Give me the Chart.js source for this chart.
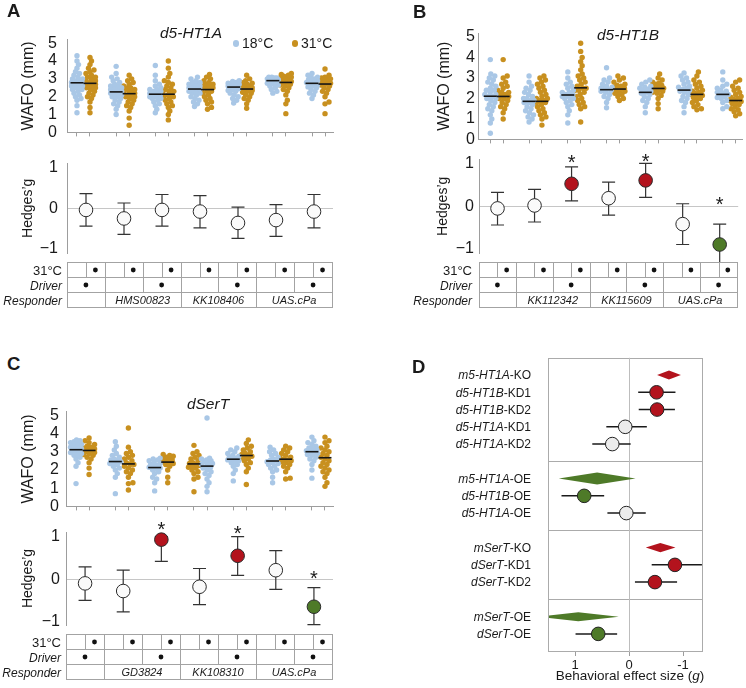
<!DOCTYPE html>
<html><head><meta charset="utf-8">
<script src="https://cdn.jsdelivr.net/npm/chart.js@4.4.1/dist/chart.umd.min.js"></script>
<style>
html,body{margin:0;padding:0;background:#fff}
body{width:746px;height:688px;position:relative;overflow:hidden;font-family:'Liberation Sans',Arial,Helvetica,sans-serif;color:#1a1a1a}
canvas{position:absolute}
.t{position:absolute;white-space:nowrap;line-height:1}
.dot{position:absolute;border-radius:50%}
</style></head><body>
<script>
// ================= DATA =================
const groups = [0,1,2,3,4,5,6];
const wafoTicks = [0,1,2,3,4,5];
const hedgesTicks = [-1,0,1];
const legendLabels = ['18°C','31°C'];
const rowLabels = ['31°C','Driver','Responder'];
const driverOn = [1,0,1,0,1,0,1];

// Panel A : d5-HT1A
const aTitle = 'd5-HT1A';
const aResponders = ['', 'HMS00823', 'KK108406', 'UAS.cPa'];
const a18 = [
 [1.1,1.5,1.8,1.9,2.0,2.1,2.2,2.3,2.4,2.4,2.5,2.5,2.6,2.6,2.7,2.7,2.8,2.8,2.9,2.9,3.0,3.0,3.1,3.2,3.3,3.4,3.6,3.8,4.0,4.3],
 [1.0,1.3,1.5,1.6,1.7,1.8,1.9,2.0,2.0,2.1,2.1,2.2,2.2,2.3,2.3,2.4,2.4,2.5,2.5,2.6,2.6,2.7,2.8,2.9,3.0,3.1,3.3,3.7],
 [1.1,1.3,1.5,1.6,1.7,1.8,1.9,1.9,2.0,2.0,2.1,2.1,2.2,2.2,2.3,2.3,2.4,2.4,2.5,2.6,2.7,2.9,3.2,3.75],
 [1.45,1.6,1.7,1.8,1.9,2.0,2.1,2.2,2.2,2.3,2.3,2.4,2.4,2.5,2.5,2.6,2.6,2.7,2.7,2.8,2.8,2.9,3.0,3.1],
 [1.65,1.8,1.9,2.0,2.1,2.2,2.3,2.35,2.4,2.45,2.5,2.5,2.55,2.6,2.6,2.65,2.7,2.7,2.75,2.8,2.85,2.9],
 [2.2,2.3,2.4,2.5,2.6,2.65,2.7,2.75,2.8,2.85,2.85,2.9,2.9,2.95,2.95,3.0,3.0,3.0,3.05,3.05,3.1,3.1],
 [1.9,2.1,2.2,2.3,2.4,2.5,2.55,2.6,2.65,2.7,2.75,2.8,2.85,2.9,2.95,3.0,3.05,3.1,3.2,3.3]
];
const a31 = [
 [1.1,1.4,1.7,1.9,2.0,2.1,2.2,2.3,2.4,2.5,2.5,2.6,2.6,2.7,2.7,2.8,2.8,2.9,2.9,3.0,3.1,3.1,3.2,3.3,3.4,3.5,3.6,3.8,4.0,4.2],
 [0.4,0.8,1.2,1.4,1.5,1.6,1.7,1.8,1.9,2.0,2.0,2.1,2.1,2.2,2.2,2.3,2.3,2.4,2.4,2.5,2.5,2.6,2.7,2.8,2.9,3.0,3.2],
 [0.7,1.0,1.2,1.4,1.5,1.6,1.7,1.8,1.9,2.0,2.0,2.1,2.1,2.2,2.3,2.3,2.4,2.5,2.6,2.7,2.8,2.9,3.1,3.3,3.6,4.0],
 [1.3,1.4,1.6,1.7,1.8,1.9,2.0,2.1,2.2,2.3,2.3,2.4,2.4,2.5,2.5,2.6,2.6,2.7,2.7,2.8,2.9,3.0,3.1,3.25],
 [1.35,1.6,1.8,1.9,2.0,2.1,2.2,2.25,2.3,2.35,2.4,2.45,2.5,2.5,2.55,2.6,2.65,2.7,2.75,2.8,2.9,3.0,3.2],
 [1.05,1.6,1.8,2.1,2.3,2.4,2.5,2.6,2.65,2.7,2.75,2.8,2.85,2.9,2.95,3.0,3.0,3.05,3.1,3.1,3.15,3.2,3.25,3.3],
 [1.05,1.6,1.7,2.0,2.2,2.3,2.4,2.5,2.6,2.65,2.7,2.75,2.8,2.85,2.9,2.95,3.0,3.0,3.05,3.1,3.2,3.55]
];
const aMean18 = [2.78,2.27,2.14,2.43,2.54,2.90,2.75];
const aMean31 = [2.75,2.17,2.14,2.40,2.43,2.80,2.71];
const aG  = [-0.04,-0.25,-0.04,-0.08,-0.36,-0.29,-0.08];
const aLo = [-0.44,-0.64,-0.44,-0.48,-0.74,-0.69,-0.48];
const aHi = [0.36,0.13,0.34,0.31,0.03,0.09,0.34];
const aSig = ['n','n','n','n','n','n','n'];
const aStar = [null,null,null,null,null,null,null];

// Panel B : d5-HT1B
const bTitle = 'd5-HT1B';
const bResponders = ['', 'KK112342', 'KK115609', 'UAS.cPa'];
const b18 = [
 [0.3,0.8,1.0,1.2,1.4,1.5,1.6,1.7,1.8,1.9,2.0,2.0,2.1,2.1,2.2,2.2,2.3,2.4,2.4,2.5,2.6,2.7,2.8,2.9,3.0,3.1,3.2,3.9],
 [0.85,1.0,1.1,1.2,1.3,1.4,1.5,1.6,1.7,1.8,1.8,1.9,1.9,2.0,2.0,2.1,2.2,2.3,2.4,2.5,2.6,2.8,3.1],
 [0.8,1.2,1.4,1.6,1.7,1.8,1.9,2.0,2.0,2.1,2.1,2.2,2.2,2.3,2.3,2.4,2.5,2.6,2.7,2.8,3.0,3.3],
 [1.55,1.8,2.0,2.1,2.2,2.3,2.35,2.4,2.45,2.5,2.5,2.55,2.6,2.7,2.8,2.9,3.0,3.5],
 [1.3,1.6,1.8,1.9,2.0,2.1,2.2,2.25,2.3,2.35,2.4,2.45,2.5,2.55,2.6,2.7,2.8,2.9],
 [1.3,1.6,1.8,1.9,2.0,2.1,2.2,2.3,2.35,2.4,2.45,2.5,2.55,2.6,2.7,2.8,2.9,3.0,3.1,3.25],
 [1.5,1.6,1.8,1.9,2.0,2.05,2.1,2.15,2.2,2.25,2.3,2.35,2.4,2.5,2.6,2.7,2.9,3.3]
];
const b31 = [
 [1.0,1.3,1.5,1.6,1.7,1.8,1.9,2.0,2.0,2.1,2.1,2.2,2.2,2.3,2.3,2.4,2.5,2.6,2.7,2.8,3.0,3.1,3.9],
 [0.7,1.0,1.1,1.2,1.3,1.4,1.5,1.6,1.7,1.8,1.8,1.9,1.9,2.0,2.0,2.1,2.2,2.3,2.4,2.5,2.6,2.7,2.8,2.9,3.0,3.1],
 [0.85,1.5,1.6,1.7,1.8,1.9,2.0,2.1,2.2,2.3,2.4,2.4,2.5,2.5,2.6,2.7,2.8,2.9,3.0,3.1,3.2,3.4,3.6,3.8,4.0,4.3,4.7],
 [1.9,2.0,2.1,2.2,2.25,2.3,2.35,2.4,2.45,2.5,2.5,2.55,2.6,2.65,2.7,2.8,2.9,3.0,3.1],
 [1.5,1.75,2.0,2.15,2.25,2.3,2.35,2.4,2.45,2.5,2.55,2.6,2.65,2.7,2.75,2.8,2.9,3.0,3.2],
 [1.45,1.5,1.6,1.7,1.8,1.9,2.0,2.05,2.1,2.15,2.2,2.25,2.3,2.35,2.4,2.5,2.6,2.7,2.8,2.9,3.1,3.3],
 [1.15,1.25,1.35,1.45,1.5,1.6,1.7,1.75,1.8,1.85,1.9,1.95,2.0,2.05,2.1,2.2,2.3,2.4,2.5,2.6,2.8,2.9]
];
const bMean18 = [2.11,1.86,2.17,2.43,2.30,2.41,2.20];
const bMean31 = [2.10,1.86,2.52,2.46,2.49,2.20,1.90];
const bG  = [-0.05,0.02,0.53,0.19,0.61,-0.42,-0.90];
const bLo = [-0.44,-0.37,0.13,-0.21,0.21,-0.90,-1.33];
const bHi = [0.33,0.40,0.93,0.57,1.01,0.06,-0.42];
const bSig = ['n','n','up','n','up','n','down'];
const bStar = [null,null,1.15,null,1.17,null,0.16];

// Panel C : dSerT  (group 4 plotted with the 31°C cloud on the left)
const cTitle = 'dSerT';
const cResponders = ['', 'GD3824', 'KK108310', 'UAS.cPa'];
const cSwapped = [3];
const c18 = [
 [1.25,2.2,2.4,2.6,2.7,2.8,2.85,2.9,2.95,3.0,3.05,3.1,3.15,3.2,3.25,3.3,3.35,3.4,3.45,3.5,3.55,3.6,3.65],
 [0.7,1.6,1.8,2.0,2.1,2.2,2.3,2.35,2.4,2.45,2.5,2.55,2.6,2.7,2.8,2.9,3.1,3.3,3.55],
 [0.85,1.3,1.5,1.6,1.8,1.9,2.0,2.05,2.1,2.15,2.2,2.25,2.3,2.35,2.4,2.5,2.55,2.6,2.65],
 [0.8,1.1,1.3,1.5,1.7,1.8,1.9,2.0,2.1,2.15,2.2,2.3,2.35,2.4,2.45,2.5,2.55,2.6,2.65,4.85],
 [1.4,1.8,2.0,2.2,2.3,2.4,2.45,2.5,2.55,2.6,2.65,2.7,2.75,2.8,2.9,3.0,3.1,3.2],
 [1.3,1.6,1.9,2.0,2.1,2.2,2.3,2.35,2.4,2.45,2.5,2.55,2.6,2.7,2.8,2.9,3.0,3.1,3.25],
 [1.55,2.0,2.3,2.5,2.6,2.7,2.8,2.85,2.9,2.95,3.0,3.05,3.1,3.15,3.2,3.3,3.4,3.5,3.6,3.8]
];
const c31 = [
 [1.75,2.1,2.4,2.6,2.7,2.8,2.85,2.9,2.95,3.0,3.05,3.1,3.15,3.2,3.25,3.3,3.4,3.5,3.6,3.75],
 [0.9,1.25,1.3,1.6,1.8,1.9,2.0,2.1,2.2,2.3,2.3,2.4,2.5,2.6,2.7,2.8,2.9,3.0,3.25,4.3],
 [1.3,1.6,2.0,2.2,2.3,2.35,2.4,2.45,2.5,2.55,2.6,2.65,2.7,2.75,2.8,2.85],
 [0.8,1.5,1.6,1.8,1.9,2.0,2.1,2.15,2.2,2.25,2.3,2.35,2.4,2.5,2.6,2.7,2.8,2.9,3.0,3.35],
 [1.2,1.9,2.1,2.3,2.4,2.5,2.6,2.65,2.7,2.75,2.8,2.85,2.9,3.0,3.1,3.2,3.3,3.45,3.65],
 [1.5,1.55,1.9,2.1,2.2,2.3,2.4,2.45,2.5,2.55,2.6,2.65,2.7,2.8,2.9,3.0,3.1,3.2,3.3],
 [1.1,1.3,1.6,1.8,1.9,2.0,2.1,2.2,2.3,2.4,2.5,2.6,2.7,2.8,2.9,3.0,3.1,3.2,3.3,3.5,3.6,3.8]
];
const cMean18 = [3.11,2.46,2.13,2.21,2.59,2.49,3.00];
const cMean31 = [3.07,2.33,2.43,2.33,2.79,2.59,2.67];
const cG  = [-0.10,-0.28,0.93,-0.18,0.55,0.21,-0.65];
const cLo = [-0.50,-0.77,0.42,-0.60,0.09,-0.24,-1.07];
const cHi = [0.29,0.21,1.00,0.25,1.00,0.67,-0.20];
const cSig = ['n','n','up','n','up','n','down'];
const cStar = [null,null,1.29,null,1.18,null,0.14];

// Panel D : forest plot
const dGroupSizes = [5,3,3,2];
const dNames = [['m5-HT1A','-KO'],['d5-HT1B','-KD1'],['d5-HT1B','-KD2'],['d5-HT1A','-KD1'],['d5-HT1A','-KD2'],
                ['m5-HT1A','-OE'],['d5-HT1B','-OE'],['d5-HT1A','-OE'],
                ['mSerT','-KO'],['dSerT','-KD1'],['dSerT','-KD2'],
                ['mSerT','-OE'],['dSerT','-OE']];
const dKind = ['meta','fly','fly','fly','fly','meta','fly','fly','meta','fly','fly','meta','fly'];
const dEst  = [-0.74,-0.51,-0.52,0.07,0.31, 0.59,0.83,0.05, -0.58,-0.85,-0.48, 0.94,0.57];
const dLow  = [-0.96,-0.86,-0.85,-0.33,-0.03, -0.12,0.46,-0.31, -0.86,-1.35,-0.89, 0.19,0.22];
const dHigh = [-0.52,-0.17,-0.18,0.42,0.68, 1.30,1.25,0.40, -0.31,-0.42,-0.11, 1.69,0.99];
const dSig  = ['up','up','up','n','n','down','down','n','up','up','up','down','down'];
const dTicks = [1,0,-1];
const dAxisTitle = 'Behavioral effect size (<i>g</i>)';

// ================= STYLE / HELPERS =================
const FONT = "'Liberation Sans', Arial, Helvetica, sans-serif";
Chart.defaults.font.family = FONT;
Chart.defaults.color = '#1a1a1a';
const BLUE='#a9c7e6', GOLD='#c8901f', RED='#b3131d', GREEN='#4e7a28', WHITE='#fafafa', GREY='#9d9d9d', TXT='#1a1a1a';
const sigColor = s => s==='up'?RED : s==='down'?GREEN : WHITE;

function mkCanvas(l,t,w,h){
  const c=document.createElement('canvas');
  c.width=w; c.height=h;
  c.style.left=l+'px'; c.style.top=t+'px'; c.style.width=w+'px'; c.style.height=h+'px';
  document.body.appendChild(c); return c;
}
function txt(html,x,base,fs,opt){
  opt=opt||{};
  const d=document.createElement('div'); d.className='t'; d.innerHTML=html;
  d.style.fontSize=fs+'px'; d.style.top=(base-0.8465*fs)+'px';
  if(opt.italic) d.style.fontStyle='italic';
  if(opt.bold) d.style.fontWeight='bold';
  if(opt.align==='center'){d.style.left=x+'px'; d.style.transform='translateX(-50%)';}
  else d.style.left=x+'px';
  document.body.appendChild(d);
}
function dot(x,y,r,col){
  const d=document.createElement('div'); d.className='dot';
  d.style.left=(x-r)+'px'; d.style.top=(y-r)+'px'; d.style.width=2*r+'px'; d.style.height=2*r+'px'; d.style.background=col;
  document.body.appendChild(d);
}
// deterministic beeswarm layout (pixel space) -> x offsets in data units
function swarm(vals,cx,pxX,pxY){
  const r=2.7, minD=2*r*0.8, out=[], placed=[];
  const sorted=[...vals].sort((a,b)=>a-b);
  for(const v of sorted){
    const py=v*pxY; let best=0, bestScore=-1;
    for(let k=0;k<=22;k++){
      const off=(k%2?1:-1)*Math.ceil(k/2)*0.5;
      let md=Infinity; for(const p of placed){const d=Math.hypot(p.x-off,p.y-py); if(d<md) md=d;}
      if(md>=minD){best=off;break;}
      if(md>bestScore){bestScore=md;best=off;}
    }
    placed.push({x:best,y:py}); out.push({x:cx+best/pxX,y:v});
  }
  return out;
}
const noInteract = {responsive:false, animation:false, events:[]};

function wafoChart(o){
  const c=mkCanvas(o.l,o.t,o.w,o.h);
  const pxX=(o.areaR-o.areaL)/(o.xmax-o.xmin), pxY=(o.areaB-o.areaT)/5.2, OFF=0.166;
  const side=(i,s)=>(o.swap&&o.swap.includes(i))?-s:s;
  const d18=[],d31=[],tickVals=[];
  groups.forEach(i=>{
    d18.push(...swarm(o.v18[i], i+side(i,-1)*OFF, pxX, pxY));
    d31.push(...swarm(o.v31[i], i+side(i,1)*OFF, pxX, pxY));
    tickVals.push(i-OFF,i+OFF);
  });
  const meanPlugin={id:'means',afterDatasetsDraw(ch){
    const ctx=ch.ctx,xs=ch.scales.x,ys=ch.scales.y; ctx.save(); ctx.strokeStyle='#151515'; ctx.lineWidth=1.6;
    groups.forEach(i=>{[[o.m18[i],side(i,-1)],[o.m31[i],side(i,1)]].forEach(([m,s])=>{
      const x=xs.getPixelForValue(i+s*OFF), y=ys.getPixelForValue(m);
      ctx.beginPath(); ctx.moveTo(x-6.5,y); ctx.lineTo(x+6.5,y); ctx.stroke();});});
    ctx.restore();}};
  const pt = col => ({pointRadius:2.7, pointBackgroundColor:col, backgroundColor:col, pointBorderWidth:0, borderWidth:0, showLine:false, clip:false});
  new Chart(c,{type:'scatter',
    data:{datasets:[Object.assign({label:legendLabels[0],data:d18},pt(BLUE)),Object.assign({label:legendLabels[1],data:d31},pt(GOLD))]},
    options:Object.assign({},noInteract,{
      layout:{padding:{left:0,top:o.areaT-o.t,right:o.l+o.w-o.areaR,bottom:0}},
      plugins:{legend:{display:false},tooltip:{enabled:false}},
      scales:{
        x:{type:'linear',min:o.xmin,max:o.xmax,
           afterFit:s=>{s.height=o.t+o.h-o.areaB;},
           afterBuildTicks:s=>{s.ticks=tickVals.map(v=>({value:v}));},
           ticks:{display:false,autoSkip:false},
           grid:{display:true,drawOnChartArea:false,drawTicks:true,tickLength:4,color:GREY,tickColor:GREY},
           border:{display:true,color:GREY}},
        y:{type:'linear',min:0,max:5.2,
           afterFit:s=>{s.width=o.areaL-o.l;},
           afterBuildTicks:s=>{s.ticks=wafoTicks.map(v=>({value:v}));},
           ticks:{font:{size:16},padding:o.tickPad,color:TXT,autoSkip:false},
           grid:{display:false,drawTicks:false},
           border:{display:true,color:GREY},
           title:{display:true,text:'WAFO (mm)',font:{size:16},color:TXT,padding:{top:o.titlePad,bottom:0}}}
      }}),
    plugins:[meanPlugin]});
}

function hedgesChart(o){
  const c=mkCanvas(o.l,o.t,o.w,o.h);
  const pts=groups.map(i=>({x:i,y:o.g[i]}));
  const errPlugin={id:'err',beforeDatasetsDraw(ch){
    const ctx=ch.ctx,xs=ch.scales.x,ys=ch.scales.y; ctx.save(); ctx.strokeStyle='#333'; ctx.lineWidth=1.2;
    groups.forEach(i=>{const x=xs.getPixelForValue(i), y0=ys.getPixelForValue(o.lo[i]), y1=ys.getPixelForValue(o.hi[i]);
      ctx.beginPath(); ctx.moveTo(x,y0); ctx.lineTo(x,y1);
      ctx.moveTo(x-6.5,y0); ctx.lineTo(x+6.5,y0); ctx.moveTo(x-6.5,y1); ctx.lineTo(x+6.5,y1); ctx.stroke();});
    ctx.restore();}};
  const starPlugin={id:'star',afterDatasetsDraw(ch){
    const ctx=ch.ctx,xs=ch.scales.x,ys=ch.scales.y; ctx.save(); ctx.fillStyle=TXT; ctx.font='20px '+FONT; ctx.textAlign='center'; ctx.textBaseline='alphabetic';
    groups.forEach(i=>{ if(o.star[i]!==null) ctx.fillText('*', xs.getPixelForValue(i), ys.getPixelForValue(o.star[i])+11.4);});
    ctx.restore();}};
  const tablePlugin={id:'tbl',afterDraw(ch){
    const ctx=ch.ctx,xs=ch.scales.x,a=ch.chartArea;
    const L=Math.round(xs.getPixelForValue(-0.5)), R=Math.round(xs.getPixelForValue(6.5))-1, w=(R-L)/7;
    const T=Math.round(a.bottom+9), rh=15;
    ctx.save();
    ctx.fillStyle='#fff'; ctx.fillRect(L,T,R-L,3*rh);
    ctx.strokeStyle='#a3a3a3'; ctx.lineWidth=1;
    const hl=y=>{ctx.beginPath();ctx.moveTo(L,y+0.5);ctx.lineTo(R+1,y+0.5);ctx.stroke();};
    const vl=(x,y0,y1)=>{x=Math.round(x)+0.5;ctx.beginPath();ctx.moveTo(x,y0);ctx.lineTo(x,y1);ctx.stroke();};
    for(let k=0;k<4;k++) hl(T+k*rh);
    vl(L,T,T+3*rh+1); vl(R,T,T+3*rh+1);
    for(let k=1;k<14;k++) vl(L+k*w/2,T,T+rh);
    for(let k=1;k<7;k++) vl(L+k*w,T+rh,T+2*rh);
    [1,3,5].forEach(k=>vl(L+k*w,T+2*rh,T+3*rh));
    ctx.fillStyle='#111';
    const dt=(x,y)=>{ctx.beginPath();ctx.arc(x,y,2.4,0,Math.PI*2);ctx.fill();};
    groups.forEach(i=>{dt(L+(i+0.75)*w,T+rh/2+0.5); if(driverOn[i]) dt(L+(i+0.5)*w,T+1.5*rh+0.5);});
    ctx.fillStyle=TXT; ctx.textBaseline='alphabetic';
    ctx.textAlign='center'; ctx.font='italic 11px '+FONT;
    [1,2,3].forEach(k=>ctx.fillText(o.resp[k], L+2*k*w, T+2.5*rh+4.5));
    ctx.textAlign='right';
    ctx.font='13px '+FONT; ctx.fillText(rowLabels[0], o.labelR-o.l, T+0.5*rh+5);
    ctx.font='italic 12px '+FONT; ctx.fillText(rowLabels[1], o.labelR-o.l, T+1.5*rh+5); ctx.fillText(rowLabels[2], o.labelR-o.l, T+2.5*rh+5);
    ctx.restore();}};
  new Chart(c,{type:'scatter',
    data:{datasets:[{label:'Hedges g',data:pts,pointRadius:6.8,pointBackgroundColor:groups.map(i=>sigColor(o.sig[i])),pointBorderColor:'#2a2a2a',pointBorderWidth:1,showLine:false,clip:false}]},
    options:Object.assign({},noInteract,{
      layout:{padding:{left:0,top:o.areaT-o.t,right:o.l+o.w-o.areaR,bottom:o.t+o.h-o.areaB}},
      plugins:{legend:{display:false},tooltip:{enabled:false}},
      scales:{
        x:{type:'linear',display:false,min:-0.5,max:6.5},
        y:{type:'linear',min:o.ymin,max:o.ymax,
           afterFit:s=>{s.width=o.areaL-o.l;},
           afterBuildTicks:s=>{s.ticks=hedgesTicks.map(v=>({value:v}));},
           ticks:{font:{size:16},padding:o.tickPad,color:TXT,autoSkip:false,callback:v=>v<0?'\u2212'+Math.abs(v):String(v)},
           grid:{display:true,drawTicks:false,color:ctx=>(ctx.tick&&ctx.tick.value===0)?'#c6c6c6':'rgba(0,0,0,0)'},
           border:{display:true,color:GREY},
           title:{display:true,text:'Hedges\u2019g',font:{size:14},color:TXT,padding:{top:o.titlePad,bottom:0}}}
      }}),
    plugins:[errPlugin,starPlugin,tablePlugin]});
}

function forestChart(){
  const l=373,t=350,w=373,h=332, L=548,R=703,T=357,B=652;
  const c=mkCanvas(l,t,w,h);
  const rows=[], seps=[]; let r=0;
  dGroupSizes.forEach((n,gi)=>{for(let k=0;k<n;k++) rows.push(r++); if(gi<dGroupSizes.length-1) seps.push(r); r++;});
  const flyIdx=rows.map((_,i)=>i).filter(i=>dKind[i]==='fly');
  const metaIdx=rows.map((_,i)=>i).filter(i=>dKind[i]==='meta');
  const metaHalf=[4.5,6,4.7,4.5];
  const boxPlugin={id:'box',beforeDatasetsDraw(ch){
    const ctx=ch.ctx,xs=ch.scales.x,ys=ch.scales.y,a=ch.chartArea; ctx.save();
    ctx.strokeStyle='#ababab'; ctx.lineWidth=1;
    ctx.strokeRect(Math.round(a.left)+0.5,Math.round(a.top)+0.5,Math.round(a.right-a.left)-1,Math.round(a.bottom-a.top)-1);
    seps.forEach(s=>{const y=Math.round(ys.getPixelForValue(s))+0.5; ctx.beginPath(); ctx.moveTo(a.left,y); ctx.lineTo(a.right,y); ctx.stroke();});
    const x0=Math.round(xs.getPixelForValue(0))+0.5; ctx.strokeStyle='#bdbdbd'; ctx.beginPath(); ctx.moveTo(x0,a.top); ctx.lineTo(x0,a.bottom); ctx.stroke();
    ctx.strokeStyle='#1a1a1a'; ctx.lineWidth=1.5;
    flyIdx.forEach(i=>{const y=ys.getPixelForValue(rows[i]); ctx.beginPath(); ctx.moveTo(xs.getPixelForValue(dLow[i]),y); ctx.lineTo(xs.getPixelForValue(dHigh[i]),y); ctx.stroke();});
    ctx.beginPath(); ctx.rect(a.left+1,a.top,a.right-a.left-2,a.bottom-a.top); ctx.clip();
    metaIdx.forEach((i,k)=>{const y=ys.getPixelForValue(rows[i]), hh=metaHalf[k];
      ctx.fillStyle=sigColor(dSig[i]); ctx.beginPath();
      ctx.moveTo(xs.getPixelForValue(dLow[i]),y); ctx.lineTo(xs.getPixelForValue(dEst[i]),y-hh);
      ctx.lineTo(xs.getPixelForValue(dHigh[i]),y); ctx.lineTo(xs.getPixelForValue(dEst[i]),y+hh); ctx.closePath(); ctx.fill();});
    ctx.restore();}};
  const labelPlugin={id:'lab',afterDraw(ch){
    const ctx=ch.ctx,ys=ch.scales.y; ctx.save(); ctx.fillStyle=TXT; ctx.textAlign='right'; ctx.textBaseline='alphabetic';
    const xr=531-l;
    rows.forEach((rr,i)=>{const y=ys.getPixelForValue(rr)+4.3;
      ctx.font='12px '+FONT; ctx.fillText(dNames[i][1],xr,y); const wS=ctx.measureText(dNames[i][1]).width;
      ctx.font='italic 12px '+FONT; ctx.fillText(dNames[i][0],xr-wS,y);});
    ctx.restore();}};
  new Chart(c,{type:'scatter',
    data:{datasets:[{label:'fly',data:flyIdx.map(i=>({x:dEst[i],y:rows[i]})),pointRadius:6.8,
      pointBackgroundColor:flyIdx.map(i=>dSig[i]==='n'?'#ececec':sigColor(dSig[i])),pointBorderColor:'#222',pointBorderWidth:1,showLine:false,clip:false}]},
    options:Object.assign({},noInteract,{
      layout:{padding:{left:0,top:T-t,right:l+w-R,bottom:0}},
      plugins:{legend:{display:false},tooltip:{enabled:false}},
      scales:{
        x:{type:'linear',reverse:true,min:-1.37,max:1.5,
           afterFit:s=>{s.height=t+h-B;},
           afterBuildTicks:s=>{s.ticks=dTicks.map(v=>({value:v}));},
           ticks:{font:{size:13},padding:2,color:TXT,autoSkip:false,callback:v=>String(v)},
           grid:{display:true,drawOnChartArea:false,drawTicks:true,tickLength:4,color:GREY,tickColor:GREY},
           border:{display:false}},
        y:{type:'linear',reverse:true,min:-1,max:16.05,
           afterFit:s=>{s.width=L-l;},
           ticks:{display:false},grid:{display:false,drawTicks:false},border:{display:false}}
      }}),
    plugins:[boxPlugin,labelPlugin]});
}

// ================= BUILD =================
wafoChart({l:0,t:20,w:345,h:132,areaL:67,areaR:333,areaT:33,areaB:142,xmin:-0.421,xmax:6.37,
  v18:a18,v31:a31,m18:aMean18,m31:aMean31,swap:[],tickPad:10,titlePad:19});
hedgesChart({l:0,t:145,w:345,h:170,areaL:67,areaR:333,areaT:157,areaB:253,ymin:-1.1,ymax:1.1,
  g:aG,lo:aLo,hi:aHi,sig:aSig,star:aStar,resp:aResponders,tickPad:9,titlePad:19.6,labelR:62});
wafoChart({l:410,t:20,w:336,h:132,areaL:478,areaR:743,areaT:33,areaB:142,xmin:-0.484,xmax:6.33,
  v18:b18,v31:b31,m18:bMean18,m31:bMean31,swap:[],tickPad:3,titlePad:25});
hedgesChart({l:410,t:145,w:336,h:170,areaL:479,areaR:746,areaT:157,areaB:253,ymin:-1.1,ymax:1.1,
  g:bG,lo:bLo,hi:bHi,sig:bSig,star:bStar,resp:bResponders,tickPad:5,titlePad:24.6,labelR:472});
wafoChart({l:0,t:395,w:345,h:128,areaL:66,areaR:333,areaT:408,areaB:513,xmin:-0.421,xmax:6.37,
  v18:c18,v31:c31,m18:cMean18,m31:cMean31,swap:cSwapped,tickPad:7,titlePad:18.7});
hedgesChart({l:0,t:512,w:345,h:176,areaL:66,areaR:333,areaT:532,areaB:625,ymin:-1.08,ymax:1.11,
  g:cG,lo:cLo,hi:cHi,sig:cSig,star:cStar,resp:cResponders,tickPad:6,titlePad:19.9,labelR:61});
forestChart();

// ================= TEXT =================
txt('A',7,18,18.5,{bold:true});
txt('B',413,18.3,18.5,{bold:true});
txt('C',7,371,18.5,{bold:true});
txt('D',412,374,18.5,{bold:true});
txt(aTitle,191,38,15.5,{italic:true,align:'center'});
txt(bTitle,628,40.5,15.5,{italic:true,align:'center'});
txt(cTitle,208,409,15.5,{italic:true,align:'center'});
dot(236,43.5,3.4,BLUE); txt(legendLabels[0],242,48,14);
dot(295,43.5,3.4,GOLD); txt(legendLabels[1],301,48,14);
txt(dAxisTitle,630,680,13.5,{align:'center'});
</script>
</body></html>
